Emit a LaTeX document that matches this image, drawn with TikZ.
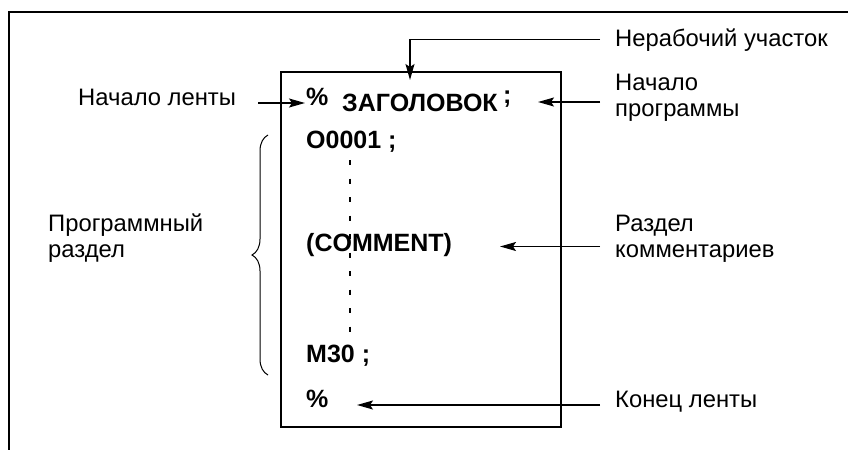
\documentclass[tikz,border=0pt]{standalone}
\usepackage{fontspec}
\setmainfont{Liberation Sans}
\usetikzlibrary{arrows.meta,decorations.pathreplacing}
\tikzset{
  lbl/.style   = {font=\fontsize{23.8}{25.5}\selectfont, inner sep=0pt, anchor=base west, align=left},
  code/.style  = {font=\fontsize{25}{27}\selectfont\bfseries, inner sep=0pt, anchor=base west},
  ptr/.style   = {-{Stealth[length=16pt, width=9pt, inset=3pt]}, line width=1.5pt},
  frame/.style = {line width=1.8pt},
}

\begin{document}
\begin{tikzpicture}[x=1pt, y=-1pt]
  \useasboundingbox (0,0) rectangle (848,450);
  \draw[frame] (848,12) -- (9,12) -- (9,450);
  \draw[frame] (281,72) rectangle (561,427);
  % tape contents
  \draw[line width=1.5pt, dash pattern=on 5pt off 13.5pt] (350,160) coordinate (dtop) -- (350,337) coordinate (dbot);
  \node[code] (pcta) at (306,105) {\%};
  \node[code] (title) at (342,111.7) {ЗАГОЛОВОК};
  \node[code] (semi) at (503,103) {;};
  \node[code] (onum) at (306,148) {O0001 ;};
  \node[code] (comm) at (306,251) {(COMMENT)};
  \node[code] (mend) at (306,362) {M30 ;};
  \node[code] (pctb) at (306,407) {\%};
  % labels
  \node[lbl] (lblank) at (615,46)  {Нерабочий участок};
  \node[lbl] (lstart) at (78,105)  {Начало ленты};
  \node[lbl] (lprog)  at (615,116) {Начало\\программы};
  \node[lbl] (lsect)  at (48,257)  {Программный\\раздел};
  \node[lbl] (lcomm)  at (615,257) {Раздел\\комментариев};
  \node[lbl] (lend)   at (615,407) {Конец ленты};
  % arrows
  \coordinate (tblank) at (410,80);
  \coordinate (tstart) at (305,103);
  \coordinate (tprog)  at (538,102);
  \coordinate (tcomm)  at (500,246.5);
  \coordinate (tend)   at (357,405);
  \draw[ptr] ([xshift=-15pt]lblank.west) -| (tblank);
  \draw[ptr, shorten <=22pt] (tstart -| lstart.east) -- (tstart);
  \draw[ptr, shorten <=15pt] (tprog -| lprog.west) -- (tprog);
  \draw[ptr, shorten <=15pt] (tcomm -| lcomm.west) -- (tcomm);
  \draw[ptr, shorten <=15pt] (tend -| lend.west) -- (tend);
  \draw[line width=1pt, decorate, decoration={brace, amplitude=16pt}] (268,375) -- (268,135);
\end{tikzpicture}
\end{document}
